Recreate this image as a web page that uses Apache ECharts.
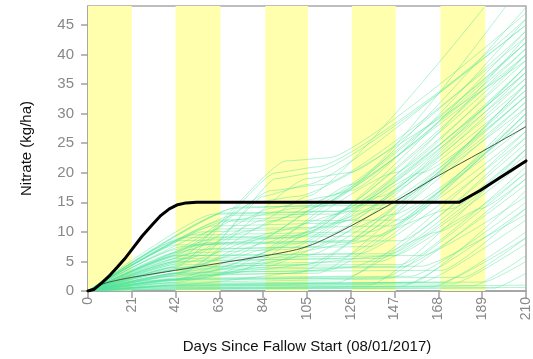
<!DOCTYPE html>
<html><head><meta charset="utf-8">
<script src="https://cdn.jsdelivr.net/npm/echarts@6/dist/echarts.min.js"></script>
<style>html,body{margin:0;padding:0;background:#fff}#c{width:533px;height:359px}</style>
</head><body><div id="c"></div>
<script>
// Tick labels
const xTicks = [0, 21, 42, 63, 84, 105, 126, 147, 168, 189, 210];
const yTicks = [0, 5, 10, 15, 20, 25, 30, 35, 40, 45];
// Shaded (yellow) periods, [startDay, endDay]
const bands = [[0, 21], [42, 63.5], [85, 105.5], [126.5, 147.5], [169, 190.5]];
// Thick black line [day, kg/ha]
const thickLine = [[0,0],[3,0.3],[7,1.5],[10.6,2.7],[14,4],[17.5,5.4],[21,7],[26,9.3],[31,11.3],[35,12.8],[39,13.9],[43,14.6],[47,14.9],[52,15],[178,15],[188,17],[198,19.3],[210,22]];
// Thin dark median line [day, kg/ha]
const medianLine = [[0,0],[5,0.9],[10,1.5],[21,2.3],[42,3.5],[63,4.7],[84,5.9],[100,7],[110,8.2],[126,11],[147,15.1],[168,19.5],[189,23.6],[210,27.8]];
// Ensemble of simulated runs, breakpoints [day, kg/ha]
const ensemble = [
  [[0,0],[30,0.5],[150,0.8],[210,14]],
  [[0,0],[40,1],[160,1.5],[210,12]],
  [[0,0],[20,0.3],[210,0.6]],
  [[0,0],[45,1.5],[140,2],[210,20]],
  [[0,0],[35,0.8],[175,1.2],[210,8]],
  [[0,0],[50,2.2],[125,2.5],[210,25]],
  [[0,0],[42,1.2],[190,1.5],[210,5]],
  [[0,0],[60,0.4],[210,1]],
  [[0,0],[42,3],[115,3.5],[210,30]],
  [[0,0],[40,4],[105,4.5],[210,33]],
  [[0,0],[45,5],[120,5.5],[210,29]],
  [[0,0],[42,6],[130,6.3],[210,26]],
  [[0,0],[50,7],[110,7.5],[210,36]],
  [[0,0],[38,2.5],[100,3],[210,34]],
  [[0,0],[55,8],[125,8.5],[210,32]],
  [[0,0],[45,9],[115,9.5],[210,38]],
  [[0,0],[48,4.5],[140,5],[210,22]],
  [[0,0],[40,3.5],[150,4],[210,18]],
  [[0,0],[42,5.5],[160,6],[210,16]],
  [[0,0],[52,6.5],[95,7],[210,37]],
  [[0,0],[55,10],[105,10.5],[210,40]],
  [[0,0],[60,11],[120,11.5],[210,35]],
  [[0,0],[65,12],[100,12.5],[210,42]],
  [[0,0],[60,13],[130,13.5],[210,34]],
  [[0,0],[70,14],[110,14.5],[210,41]],
  [[0,0],[50,9.5],[135,10],[210,28]],
  [[0,0],[63,10.5],[145,11],[210,27]],
  [[0,0],[42,4],[90,20],[110,21],[210,45]],
  [[0,0],[42,5],[95,22],[115,22.5],[210,47]],
  [[0,0],[42,6],[88,17],[112,18],[210,43]],
  [[0,0],[45,3],[105,19],[125,20],[210,44]],
  [[0,0],[42,7],[80,15],[100,16],[210,39]],
  [[0,0],[42,2],[84,7],[126,17],[210,46]],
  [[0,0],[42,1.5],[70,3],[126,14],[210,43]],
  [[0,0],[63,4],[126,12],[210,38]],
  [[0,0],[42,3],[84,8],[147,20],[210,40]],
  [[0,0],[50,2],[105,6],[210,31]],
  [[0,0],[42,2.5],[90,5],[160,20],[210,33]],
  [[0,0],[42,1],[170,1.5],[210,10]],
  [[0,0],[42,2],[155,2.5],[210,15]],
  [[0,0],[42,0.5],[165,0.7],[210,9]],
  [[0,0],[30,1.8],[145,2.2],[210,19]],
  [[0,0],[40,2],[180,2.3],[210,9]],
  [[0,0],[45,3.2],[170,3.5],[210,14]],
  [[0,0],[50,4.2],[150,4.5],[210,21]],
  [[0,0],[55,5.2],[140,5.5],[210,24]],
  [[0,0],[52,6],[145,6.3],[210,23]],
  [[0,0],[60,7.2],[135,7.5],[210,30]],
  [[0,0],[58,8.2],[150,8.5],[210,26]],
  [[0,0],[62,9],[140,9.3],[210,31]],
  [[0,0],[66,11.8],[150,12],[210,30]],
  [[0,0],[70,12.8],[118,13],[210,39]],
  [[0,0],[72,14.2],[140,14.5],[210,33]],
  [[0,0],[40,0.8],[135,1],[210,24]],
  [[0,0],[35,1.3],[120,1.5],[210,27]],
  [[0,0],[45,2.8],[110,3],[210,35]],
  [[0,0],[42,0.3],[195,0.5],[210,3]],
  [[0,0],[30,0.6],[185,0.9],[210,6]],
  [[0,0],[42,2],[63,3],[105,10],[210,44]],
  [[0,0],[42,3.5],[70,6],[115,15],[210,48]],
  [[0,0],[50,4],[84,9],[126,18],[200,48]],
  [[0,0],[42,5],[84,12],[105,16],[190,48]],
  [[0,0],[45,2],[100,8],[140,16],[210,37]],
  [[0,0],[48,5],[90,10],[120,13],[210,36]],
  [[0,0],[42,4.5],[75,10],[100,13],[210,42]],
  [[0,0],[55,6],[84,16],[105,18],[210,46]],
  [[0,0],[60,8],[90,19],[108,20],[210,45]],
  [[0,0],[42,6.5],[70,12],[100,14],[130,15],[210,38]],
  [[0,0],[45,7.5],[95,9],[140,14],[210,32]],
  [[0,0],[42,1.8],[84,4],[147,13],[210,29]],
  [[0,0],[50,3],[126,8],[175,14],[210,24]],
  [[0,0],[42,1],[126,4],[168,10],[210,20]],
  [[0,0],[42,2.2],[147,6],[189,14],[210,19]],
  [[0,0],[42,0.9],[155,1.3],[210,17]],
  [[0,0],[42,3.8],[160,4.2],[210,13]],
  [[0,0],[42,7.8],[125,8.2],[210,35]],
  [[0,0],[42,8.5],[100,9],[210,41]],
  [[0,0],[65,13.2],[120,13.5],[210,37]],
  [[0,0],[42,5.8],[88,14],[115,16],[210,40]],
  [[0,0],[42,3],[90,12],[120,16.5],[210,42]]
];

const font = 'Liberation Sans, Arial, Helvetica, sans-serif';
const chart = echarts.init(document.getElementById('c'), null, {renderer: 'canvas'});
const series = [];
series.push({
  type: 'line', data: [], silent: true, z: 0,
  markArea: {
    silent: true,
    itemStyle: {color: '#FFFFAD'},
    data: bands.map(b => [{xAxis: b[0]}, {xAxis: b[1]}])
  }
});
ensemble.forEach(d => series.push({
  type: 'line', data: d, symbol: 'none', silent: true, z: 2,
  smooth: 0.15, smoothMonotone: 'x',
  lineStyle: {color: 'rgba(85,228,160,0.45)', width: 1}
}));
series.push({type: 'line', data: medianLine, symbol: 'none', smooth: 0.3, z: 3,
  lineStyle: {color: '#3f5a48', width: 1}});
series.push({type: 'line', data: thickLine, symbol: 'none', smooth: false, z: 4,
  lineStyle: {color: '#000', width: 3, join: 'round', cap: 'round'}});

chart.setOption({
  animation: false,
  grid: {left: 88, right: 5, top: 6, bottom: 63, show: true, borderColor: '#a8a8a8', borderWidth: 1.5, backgroundColor: 'transparent'},
  xAxis: {
    type: 'value', min: 0, max: 210, interval: 21,
    name: 'Days Since Fallow Start (08/01/2017)', nameLocation: 'middle', nameGap: 48,
    nameTextStyle: {color: '#111', fontSize: 15, fontFamily: font},
    axisLine: {show: true, lineStyle: {color: '#a0a0a0', width: 1.5}},
    axisTick: {show: true, length: 7, inside: false, lineStyle: {color: '#a0a0a0', width: 1.5}, customValues: xTicks},
    axisLabel: {rotate: 90, color: '#888', fontSize: 14, fontFamily: font, margin: 6, customValues: xTicks},
    splitLine: {show: false}
  },
  yAxis: {
    type: 'value', min: 0, max: 48.2,
    name: 'Nitrate (kg/ha)', nameLocation: 'middle', nameGap: 54,
    nameTextStyle: {color: '#111', fontSize: 15, fontFamily: font},
    axisLine: {show: true, lineStyle: {color: '#a0a0a0', width: 1.5}},
    axisTick: {show: true, length: 7, lineStyle: {color: '#a0a0a0', width: 1.5}, customValues: yTicks},
    axisLabel: {color: '#888', fontSize: 15, fontFamily: font, margin: 14, customValues: yTicks},
    splitLine: {show: false}
  },
  series: series
});
</script>
</body></html>
